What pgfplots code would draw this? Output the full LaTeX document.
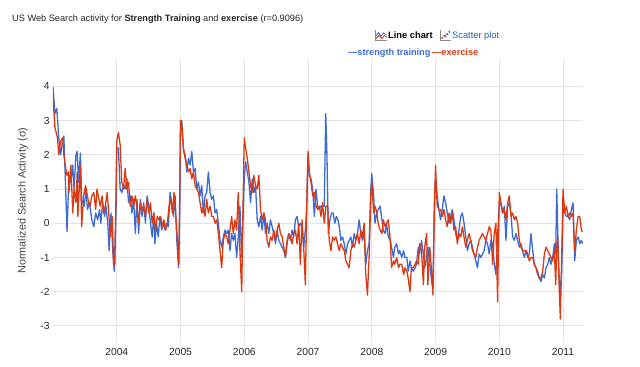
\documentclass[border=0pt]{standalone}
\usepackage{fontspec}
\setmainfont{Liberation Sans}
\usepackage{pgfplots}
\pgfplotsset{compat=1.18}
\definecolor{gblue}{HTML}{3A6BD6}
\definecolor{gred}{HTML}{DC3912}
\definecolor{gridgray}{HTML}{E3E3E3}
\definecolor{linkblue}{HTML}{2A5DB0}
\definecolor{labelgray}{HTML}{444444}
\begin{document}
\begin{tikzpicture}
\useasboundingbox (0,0) rectangle (640bp,367bp);
\begin{axis}[
  at={(53bp,25bp)}, anchor=south west,
  width=530bp, height=283bp, scale only axis,
  xmin=2003.0, xmax=2011.313,
  ymin=-3.47, ymax=4.80,
  axis line style={draw=none},
  tick style={draw=none},
  grid=major,
  major grid style={color=gridgray, line width=0.9bp},
  xtick={2004,2005,2006,2007,2008,2009,2010,2011},
  xticklabels={2004,2005,2006,2007,2008,2009,2010,2011},
  ytick={-3,-2,-1,0,1,2,3,4},
  yticklabels={-3,-2,-1,0,1,2,3,4},
  ticklabel style={font=\fontsize{10.3bp}{12bp}\selectfont, text=black!85},
  xticklabel style={yshift=-3bp},
  ylabel={Normalized Search Activity (σ)},
  ylabel style={at={(axis description cs:-0.057,0.5)}, anchor=center, font=\fontsize{10.8bp}{12bp}\selectfont, text=labelgray},
  clip=true,
]
\addplot[gblue, line width=1.3bp, line join=round] table {
2003.00 4.0
2003.03 3.2
2003.06 3.35
2003.09 2.5
2003.12 2.0
2003.15 2.4
2003.17 2.55
2003.19 1.5
2003.22 -0.25
2003.25 1.4
2003.28 1.2
2003.31 1.7
2003.33 1.0
2003.36 2.0
2003.38 2.1
2003.40 1.2
2003.43 2.05
2003.45 0.7
2003.49 0.5
2003.52 1.0
2003.54 0.4
2003.57 0.6
2003.61 0.1
2003.64 -0.1
2003.67 0.3
2003.70 0.1
2003.73 0.4
2003.75 0.0
2003.78 0.6
2003.81 0.2
2003.83 0.5
2003.86 0.0
2003.88 -0.8
2003.91 0.3
2003.94 -0.9
2003.96 -1.4
2003.99 0.5
2004.000 2.2
2004.026 2.2
2004.053 1.0
2004.079 0.9
2004.106 1.1
2004.132 1.0
2004.159 1.3
2004.185 0.6
2004.212 0.8
2004.238 0.3
2004.265 0.7
2004.291 -0.3
2004.317 0.7
2004.344 -0.3
2004.370 0.7
2004.397 0.2
2004.423 0.6
2004.450 0.0
2004.476 0.8
2004.503 0.5
2004.529 0.0
2004.556 -0.4
2004.582 0.3
2004.598 -0.6
2004.624 0.0
2004.651 -0.4
2004.677 0.2
2004.704 -0.2
2004.730 0.0
2004.757 -0.2
2004.783 0.0
2004.810 -0.1
2004.836 0.9
2004.862 0.6
2004.889 0.2
2004.915 0.8
2004.942 -0.5
2004.968 -1.3
2004.989 0.5
2005.000 3.0
2005.020 3.0
2005.047 2.1
2005.073 2.0
2005.099 1.5
2005.125 1.9
2005.151 1.7
2005.177 2.1
2005.203 1.5
2005.229 1.6
2005.255 1.0
2005.281 1.2
2005.307 0.8
2005.333 1.1
2005.359 0.3
2005.385 0.8
2005.411 0.9
2005.437 1.5
2005.464 0.9
2005.490 0.7
2005.516 0.8
2005.542 0.3
2005.568 0.4
2005.594 0.0
2005.620 -0.5
2005.646 -0.7
2005.672 -0.4
2005.698 -0.2
2005.724 -0.3
2005.750 -0.2
2005.776 -0.8
2005.802 -0.3
2005.828 -0.5
2005.854 -0.3
2005.880 -1.0
2005.906 -0.4
2005.932 0.5
2005.958 -1.0
2005.980 0.2
2006.000 1.3
2006.021 1.8
2006.047 1.5
2006.073 1.2
2006.099 0.6
2006.125 1.3
2006.151 0.9
2006.177 1.1
2006.203 0.1
2006.229 -0.1
2006.255 0.2
2006.281 -0.2
2006.307 0.3
2006.333 -0.3
2006.359 0.0
2006.385 -0.3
2006.411 0.1
2006.437 -0.1
2006.464 -0.3
2006.490 -0.6
2006.516 -0.2
2006.542 -0.5
2006.568 -0.6
2006.594 -0.7
2006.620 -0.8
2006.646 -1.0
2006.672 -0.6
2006.698 -0.3
2006.724 -0.5
2006.750 -0.2
2006.776 -0.4
2006.802 0.1
2006.828 0.2
2006.854 -0.1
2006.880 0.0
2006.906 -0.1
2006.932 -0.7
2006.958 -0.2
2006.980 0.5
2007.000 2.0
2007.021 1.4
2007.047 1.3
2007.073 1.0
2007.099 0.2
2007.125 1.0
2007.151 0.5
2007.177 0.4
2007.203 0.5
2007.229 0.5
2007.255 0.5
2007.278 3.2
2007.297 2.0
2007.318 -0.3
2007.344 0.1
2007.370 0.3
2007.395 0.3
2007.420 0.0
2007.445 0.2
2007.470 0.1
2007.490 -0.1
2007.516 -0.5
2007.542 -0.4
2007.568 -0.6
2007.594 -0.9
2007.620 -0.6
2007.646 -0.5
2007.672 -0.4
2007.698 -0.7
2007.724 -0.3
2007.750 -0.5
2007.776 -0.3
2007.802 0.1
2007.828 -0.3
2007.854 -0.5
2007.880 -0.2
2007.906 -1.2
2007.932 -0.8
2007.958 -0.6
2007.985 1.0
2008.00 1.45
2008.03 0.8
2008.05 0.0
2008.08 0.3
2008.10 0.4
2008.13 0.5
2008.16 0.1
2008.18 -0.2
2008.21 -0.3
2008.23 0.0
2008.26 -0.4
2008.29 -0.5
2008.31 -0.7
2008.34 -1.0
2008.36 -0.7
2008.39 -0.6
2008.42 -0.9
2008.44 -0.8
2008.47 -1.0
2008.50 -0.8
2008.52 -1.0
2008.55 -1.0
2008.57 -1.4
2008.60 -1.1
2008.62 -1.3
2008.65 -1.4
2008.68 -1.3
2008.70 -1.2
2008.73 -0.7
2008.75 -0.9
2008.78 -0.5
2008.81 -0.9
2008.83 -1.3
2008.86 -1.0
2008.88 -0.7
2008.91 -1.2
2008.94 -1.7
2008.96 -1.9
2008.98 0.5
2009.000 1.3
2009.026 0.8
2009.053 0.4
2009.079 0.1
2009.105 0.4
2009.132 0.8
2009.158 0.6
2009.184 0.3
2009.211 0.0
2009.237 0.2
2009.263 0.4
2009.289 0.1
2009.316 -0.3
2009.342 -0.5
2009.368 -0.2
2009.395 0.2
2009.421 0.3
2009.447 0.0
2009.474 -0.4
2009.500 -0.8
2009.526 -0.6
2009.553 -0.5
2009.579 -0.7
2009.605 -0.9
2009.632 -1.1
2009.658 -1.3
2009.684 -0.9
2009.711 -1.0
2009.737 -0.9
2009.763 -0.8
2009.789 -0.5
2009.816 -0.6
2009.842 -0.9
2009.868 -0.5
2009.895 -0.6
2009.921 -1.2
2009.947 -1.5
2009.974 -0.3
2010.000 0.5
2010.026 0.6
2010.052 0.3
2010.079 0.5
2010.105 -0.5
2010.131 0.5
2010.157 0.6
2010.183 0.3
2010.209 -0.4
2010.236 -0.5
2010.262 -0.3
2010.288 -0.5
2010.314 -0.7
2010.340 -0.6
2010.366 -0.8
2010.393 -1.0
2010.419 -0.8
2010.445 -1.0
2010.471 -0.9
2010.497 -0.3
2010.524 -0.8
2010.550 -1.2
2010.576 -1.3
2010.602 -1.4
2010.628 -1.6
2010.654 -1.7
2010.681 -1.5
2010.707 -1.6
2010.733 -1.3
2010.759 -1.2
2010.785 -1.0
2010.812 -1.2
2010.838 -1.0
2010.864 -0.6
2010.885 -0.9
2010.901 1.0
2010.927 -1.0
2010.953 -2.2
2010.979 -1.4
2011.000 0.4
2011.026 0.3
2011.052 0.2
2011.079 0.2
2011.105 0.1
2011.131 0.4
2011.157 0.6
2011.183 -1.1
2011.209 -0.5
2011.236 -0.4
2011.262 -0.6
2011.288 -0.5
2011.309 -0.6
};
\addplot[gred, line width=1.3bp, line join=round] table {
2003.00 3.7
2003.03 2.8
2003.07 2.5
2003.09 2.0
2003.12 2.4
2003.15 2.5
2003.17 2.0
2003.20 1.6
2003.22 1.4
2003.24 1.5
2003.25 0.9
2003.28 1.7
2003.31 0.3
2003.33 1.0
2003.36 0.6
2003.38 1.5
2003.39 0.2
2003.43 1.7
2003.45 -0.1
2003.48 0.8
2003.51 1.1
2003.53 0.9
2003.56 0.6
2003.58 0.5
2003.61 0.8
2003.64 0.9
2003.67 0.4
2003.69 1.0
2003.72 0.7
2003.74 0.5
2003.77 0.8
2003.79 0.3
2003.82 0.5
2003.85 0.9
2003.87 0.4
2003.90 -0.4
2003.93 0.2
2003.95 -1.2
2003.97 -1.2
2003.99 1.0
2004.000 2.4
2004.026 2.65
2004.053 2.3
2004.079 1.2
2004.106 1.0
2004.132 1.6
2004.159 1.0
2004.185 1.2
2004.212 0.5
2004.238 0.8
2004.265 0.5
2004.291 0.8
2004.317 0.5
2004.344 0.0
2004.370 0.6
2004.397 0.4
2004.423 0.5
2004.450 0.2
2004.476 0.7
2004.503 0.3
2004.529 0.6
2004.556 0.0
2004.582 0.3
2004.608 -0.2
2004.635 0.2
2004.661 0.1
2004.688 0.2
2004.714 -0.1
2004.741 0.1
2004.767 -0.2
2004.794 0.0
2004.820 0.5
2004.847 0.7
2004.873 0.3
2004.899 0.9
2004.926 0.2
2004.952 -0.5
2004.974 -1.2
2004.989 1.0
2005.000 3.0
2005.020 2.9
2005.047 2.2
2005.073 1.9
2005.099 1.7
2005.125 1.5
2005.151 1.6
2005.177 1.3
2005.203 1.5
2005.229 1.1
2005.255 1.0
2005.281 0.9
2005.307 0.6
2005.333 0.3
2005.359 0.5
2005.385 0.2
2005.411 0.7
2005.437 0.3
2005.464 0.5
2005.490 0.2
2005.516 0.2
2005.542 0.0
2005.568 0.1
2005.594 -0.3
2005.620 -0.8
2005.646 -1.3
2005.672 -0.5
2005.698 -0.3
2005.724 -0.4
2005.750 -0.6
2005.776 -0.2
2005.802 0.2
2005.828 -0.3
2005.854 0.1
2005.880 -0.2
2005.906 0.9
2005.932 -0.8
2005.960 -2.0
2005.985 1.0
2006.000 2.5
2006.021 2.2
2006.047 1.9
2006.073 1.5
2006.099 1.1
2006.125 0.9
2006.151 1.4
2006.177 1.1
2006.203 1.0
2006.229 1.4
2006.255 0.4
2006.281 0.1
2006.307 0.3
2006.333 0.1
2006.359 -0.5
2006.385 -0.7
2006.411 -0.4
2006.437 -0.5
2006.464 -0.2
2006.490 -0.5
2006.516 -0.2
2006.542 0.0
2006.568 -0.3
2006.594 -0.4
2006.620 -0.7
2006.646 -1.0
2006.672 -0.5
2006.698 -0.3
2006.724 -0.4
2006.750 -0.6
2006.776 -0.3
2006.802 -0.2
2006.828 -0.6
2006.854 0.0
2006.880 -1.2
2006.906 0.1
2006.932 -0.7
2006.958 -1.8
2006.985 1.0
2007.000 2.1
2007.021 1.5
2007.047 1.2
2007.073 0.8
2007.099 0.9
2007.125 0.5
2007.151 0.4
2007.177 0.5
2007.203 0.2
2007.229 0.6
2007.255 0.0
2007.281 0.5
2007.307 0.5
2007.333 -0.5
2007.359 -0.8
2007.385 -0.4
2007.411 -0.5
2007.437 -0.4
2007.464 -0.6
2007.490 -0.8
2007.516 -0.6
2007.542 -0.7
2007.568 -0.8
2007.594 -1.1
2007.620 -1.2
2007.646 -1.3
2007.672 -0.8
2007.698 -0.6
2007.724 -0.7
2007.750 -0.5
2007.776 -0.3
2007.802 -0.6
2007.828 -0.2
2007.854 -0.4
2007.880 0.0
2007.906 -1.5
2007.932 -2.1
2007.958 -1.0
2007.985 0.8
2008.00 1.2
2008.03 0.3
2008.05 0.5
2008.08 0.3
2008.10 0.0
2008.13 -0.2
2008.16 -0.3
2008.18 0.1
2008.21 -0.1
2008.23 0.0
2008.26 0.1
2008.29 -0.5
2008.31 -1.3
2008.34 -1.1
2008.36 -1.2
2008.39 -1.0
2008.42 -1.3
2008.44 -1.2
2008.47 -1.2
2008.50 -1.5
2008.52 -1.3
2008.55 -1.4
2008.57 -1.6
2008.60 -2.0
2008.62 -1.3
2008.65 -1.3
2008.68 -1.2
2008.70 -1.1
2008.73 -1.2
2008.75 -0.6
2008.78 -0.8
2008.81 -1.8
2008.83 -0.7
2008.86 -0.3
2008.88 -1.8
2008.91 -0.7
2008.93 -1.2
2008.96 -2.1
2008.98 0.2
2009.000 1.7
2009.026 0.5
2009.053 0.4
2009.079 0.4
2009.105 0.2
2009.132 0.4
2009.158 0.1
2009.184 -0.1
2009.211 0.3
2009.237 0.0
2009.263 0.3
2009.289 -0.2
2009.316 -0.1
2009.342 -0.6
2009.368 -0.3
2009.395 -0.4
2009.421 -0.1
2009.447 -0.4
2009.474 -0.7
2009.500 -0.5
2009.526 -0.3
2009.553 -0.5
2009.579 -0.8
2009.605 -0.9
2009.632 -1.0
2009.658 -0.7
2009.684 -0.5
2009.711 -0.4
2009.737 -0.3
2009.763 -0.4
2009.789 -0.5
2009.816 -0.3
2009.842 -0.1
2009.868 -0.2
2009.895 -1.2
2009.921 -0.3
2009.947 0.0
2009.974 -2.3
2009.987 -0.5
2010.000 0.9
2010.026 0.6
2010.052 0.3
2010.079 0.4
2010.105 0.1
2010.131 0.6
2010.157 0.8
2010.183 0.2
2010.209 0.3
2010.236 0.1
2010.262 0.2
2010.288 0.0
2010.314 -0.5
2010.340 -0.7
2010.366 -0.8
2010.393 -0.8
2010.419 -0.8
2010.445 -0.9
2010.471 -1.1
2010.497 -1.0
2010.524 -1.0
2010.550 -1.2
2010.576 -1.3
2010.602 -1.5
2010.628 -1.6
2010.654 -1.6
2010.681 -1.4
2010.707 -0.9
2010.733 -0.7
2010.759 -0.8
2010.785 -0.9
2010.812 -1.0
2010.838 -1.1
2010.864 -0.8
2010.885 -1.8
2010.901 -0.7
2010.916 -0.4
2010.942 -2.0
2010.958 -2.8
2010.979 -1.0
2011.000 1.0
2011.026 0.3
2011.052 0.5
2011.079 0.2
2011.105 0.3
2011.131 0.2
2011.157 0.3
2011.183 -0.8
2011.209 -0.2
2011.236 0.2
2011.262 0.2
2011.288 -0.2
2011.309 -0.25
};
\end{axis}
% title
\node[anchor=base west, inner sep=0, text=black!85] at (12bp,345bp)
  {\fontsize{9.2bp}{11bp}\selectfont US Web Search activity for \textbf{Strength Training} and \textbf{exercise} (r=0.9096)};
% legend line 1 with small icons
\draw[black!45, line width=0.6bp] (375bp,337bp) -- (375bp,326.5bp) -- (387bp,326.5bp);
\draw[gblue, line width=0.8bp] (376bp,331bp) -- (378.5bp,334.5bp) -- (381bp,330.5bp) -- (383.5bp,334bp) -- (386.5bp,332bp);
\draw[gred, line width=0.8bp] (376bp,328.5bp) -- (379bp,331.5bp) -- (382bp,328.5bp) -- (384.5bp,331.5bp) -- (387bp,329.5bp);
\node[anchor=base west, inner sep=0] at (388bp,328bp) {\fontsize{9.3bp}{11bp}\selectfont\textbf{Line chart}};
\draw[black!45, line width=0.6bp] (440bp,337bp) -- (440bp,326.5bp) -- (451bp,326.5bp);
\draw[gred, line width=1.6bp, dash pattern=on 1.6bp off 1.4bp] (441.5bp,328.5bp) -- (446bp,333bp);
\draw[gblue, line width=1.6bp, dash pattern=on 1.6bp off 1.4bp] (445bp,330bp) -- (450bp,336bp);
\node[anchor=base west, inner sep=0, text=linkblue] at (452bp,328bp) {\fontsize{9.3bp}{11bp}\selectfont Scatter plot};
% legend line 2
\node[anchor=base west, inner sep=0, text=gblue] at (348bp,311bp) {\fontsize{9.2bp}{11bp}\selectfont\textbf{—strength training}};
\node[anchor=base west, inner sep=0, text=gred] at (432bp,311bp) {\fontsize{9.2bp}{11bp}\selectfont\textbf{—exercise}};
\end{tikzpicture}
\end{document}
